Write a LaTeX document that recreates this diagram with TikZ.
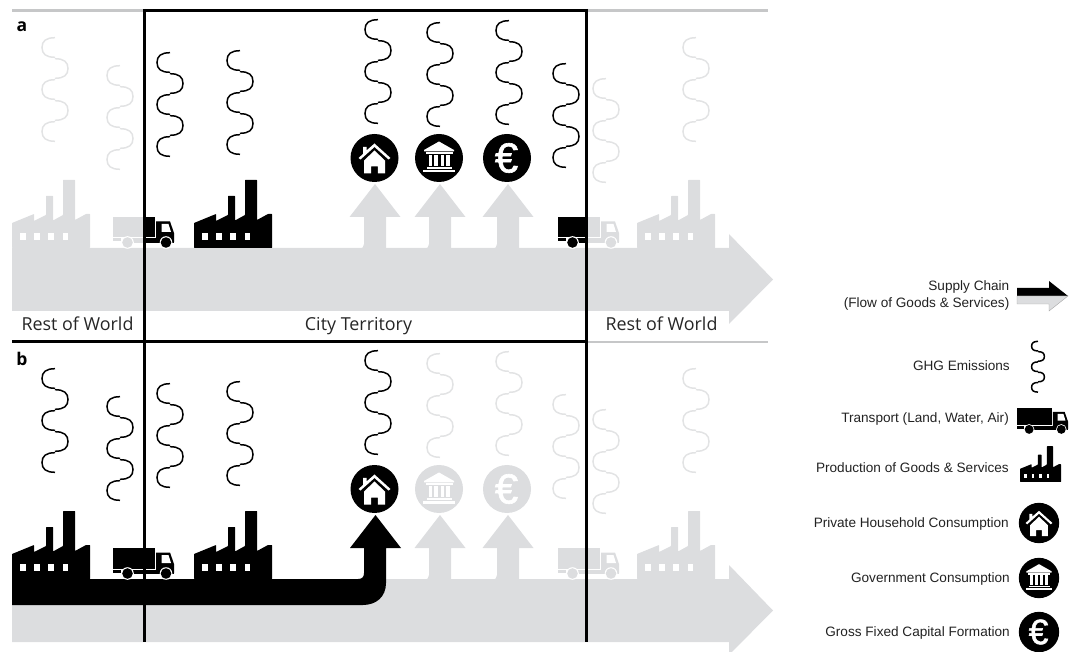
\documentclass[tikz,border=0pt]{standalone}
\usepackage{fontspec}
\setmainfont{Open Sans}
\newfontfamily\legendfont{Liberation Sans}
\newfontfamily\eurofont[FakeBold=1.5]{Liberation Sans}
\definecolor{ghost}{HTML}{DCDDDF}
\definecolor{ghostwave}{HTML}{E2E3E4}
\definecolor{ghostrule}{HTML}{C6C7C8}
\definecolor{legendink}{HTML}{222222}
\tikzset{
    panellabel/.style={anchor=base,font=\fontsize{17.5}{20}\selectfont\bfseries},
    regionlabel/.style={anchor=base,text=black!85,font=\fontsize{17.9}{20}\selectfont},
    legendlabel/.style={anchor=base east,inner sep=0pt,text=legendink,font=\legendfont\fontsize{13.6}{17}\selectfont},
    panelrule/.style={line width=3pt},
    pics/wave/.style={code={
        \foreach \n/\s in {0/-1,1/1,2/-1,3/1,4/-1}
            \draw[#1,line width=1.5pt] (0,\n*21+0.7) .. controls (\s*9,\n*21+0.7) and (\s*13,\n*21+4) .. (\s*13,\n*21+10.5)
                .. controls (\s*13,\n*21+17) and (\s*9,\n*21+20.3) .. (0,\n*21+20.3);
    }},
    pics/factory/.style={code={
        \fill[#1,rounded corners=0.5pt] (0,0) -- (0,-25) -- (22,-34) -- (22,-27) -- (34,-33) -- (34,-52) -- (41,-52)
            -- (41,-27.5) -- (51,-33) -- (51,-68) -- (63,-68) -- (63,-28) -- (74,-34) -- (78,-34) -- (78,0) -- cycle;
        \foreach \x in {8,22,36,50.5}
            \fill[white] (\x,-7.7) rectangle (\x+5.5,-14.7);
    }},
    pics/truck/.style={code={
        \fill[#1] (0,-10.5) rectangle (42,-31);
        \fill[#1] (0,-9.5) rectangle (8,-6.5);
        \fill[#1] (18,-9.5) rectangle (61,-5);
        \fill[#1] (43,-9) -- (43,-26.5) -- (57,-26.5) -- (61,-15) -- (61,-6) -- cycle;
        \fill[white] (48.5,-24) -- (55.5,-24) -- (58,-16) -- (48.5,-16) -- cycle;
        \foreach \x in {14.5,53} {
            \fill[white] (\x,-5.5) circle (6.3);
            \fill[#1] (\x,-5.5) circle (5.3);
        }
    }},
    pics/houseicon/.style={code={
        \fill[#1] (0,0) circle (24);
        \fill[white] (-16,0) -- (-11.5,-4) -- (-11.5,-11) -- (-8,-11) -- (-8,-7.5) -- (0,-14.5) -- (16,0) -- (14,1.5)
            -- (0,-11) -- (-14,1.5) -- cycle;
        \fill[white] (-10.5,2.5) -- (0,-7.5) -- (10.5,2.5) -- (10.5,15.5) -- (3.3,15.5) -- (3.3,8.5) -- (-3.3,8.5) -- (-3.3,15.5) -- (-10.5,15.5) -- cycle;
    }},
    pics/bankicon/.style={code={
        \fill[#1] (0,0) circle (24);
        \fill[white] (0,-16.5) -- (15,-8) -- (15,-6.5) -- (-15,-6.5) -- (-15,-8) -- cycle;
        \fill[white] (-13.5,-5.5) rectangle (13.5,-4);
        \foreach \x in {-10.5,-5,1.5,7}
            \fill[white] (\x,-3) rectangle +(3.5,11);
        \fill[white] (-12.5,9) rectangle (12.5,11);
        \fill[white] (-16,12) rectangle (16,14.5);
    }},
    pics/euroicon/.style={code={
        \fill[#1] (0,0) circle (24);
        \node[transform shape,text=white,inner sep=0pt,font=\eurofont\fontsize{42}{42}\selectfont] (eurosign) at (-0.5,0) {€};
    }},
    pics/flowbar/.style={code={
        \fill[ghost] (12,0) -- (729,0) -- (729,-14) -- (773,31.5) -- (729,76) -- (729,63) -- (12,63) -- cycle;
    }},
    pics/riser/.style={code={
        \fill[ghost] (-16,0.5) .. controls (-12.5,0.5) and (-11,-1) .. (-11,-4) -- (-11,-31) -- (-25.5,-31) -- (0,-64)
            -- (25.5,-31) -- (11,-31) -- (11,0.5) -- cycle;
    }}
}
\begin{document}
\begin{tikzpicture}[x=1pt,y=-1pt]
    \useasboundingbox (0,0) rectangle (1072,652);
    % supply chain bars
    \path pic at (0,248) {flowbar} pic at (0,579) {flowbar};
    \foreach \x in {375,440,508}
        \path pic at (\x,248) {riser};
    \foreach \x in {440,508}
        \path pic at (\x,579) {riser};
    \fill (12,579) -- (358,579) .. controls (362,579) and (364,577) .. (364,573) -- (364,548) -- (350,548) -- (375.5,515)
        -- (401,548) -- (386,548) -- (386,583) .. controls (386,597) and (376,605) .. (363,605) -- (12,605) -- cycle;
    % emissions
    \foreach \x/\y in {55/37,120/65,606/78,696/37}
        \path pic at (\x,\y) {wave=ghostwave};
    \foreach \x/\y in {170/52,240/50,378/19,440/22,509/20,566/63}
        \path pic at (\x,\y) {wave=black};
    \foreach \x/\y in {440/353,509/351,566/394,606/409,696/368}
        \path pic at (\x,\y) {wave=ghostwave};
    \foreach \x/\y in {55/368,120/396,170/383,240/381,378/350}
        \path pic at (\x,\y) {wave=black};
    % plants and trucks
    \path pic at (12,248) {factory=ghost} pic at (194,248) {factory=black}
        pic at (637,248) {factory=ghost};
    \path pic at (12,579) {factory=black} pic at (194,579) {factory=black}
        pic at (637,579) {factory=ghost};
    \path pic at (113,248) {truck=ghost} pic at (558,248) {truck=ghost};
    \begin{scope}
        \clip (144,200) rectangle (180,250);
        \path pic at (113,248) {truck=black};
    \end{scope}
    \begin{scope}
        \clip (550,200) rectangle (586,250);
        \path pic at (558,248) {truck=black};
    \end{scope}
    \path pic at (113,579) {truck=black} pic at (558,579) {truck=ghost};
    % consumption
    \path pic at (374.5,158) {houseicon=black} pic at (439,158) {bankicon=black}
        pic at (507,158) {euroicon=black};
    \path pic at (374.5,489) {houseicon=black} pic at (439,489) {bankicon=ghost}
        pic at (507,489) {euroicon=ghost};
    % frames
    \draw[ghostrule,line width=2.6pt] (12,10.5) -- (144,10.5) (586,10.5) -- (768,10.5) (586,342) -- (768,342);
    \draw[panelrule] (144,9) -- (144,641.5) (586,9) -- (586,641.5);
    \draw[panelrule] (144,10.5) -- (586,10.5) (12,342) -- (586,342);
    \node[panellabel] (labela) at (22,32) {a};
    \node[panellabel] (labelb) at (22,366) {b};
    \node[regionlabel] (restleft) at (77.5,331) {Rest of World};
    \node[regionlabel] (city) at (358.5,331) {City Territory};
    \node[regionlabel] (restright) at (661.5,331) {Rest of World};
    % legend
    \node[legendlabel,anchor=east,align=right] (lgchain) at (1009.5,295) {Supply Chain\\(Flow of Goods \& Services)};
    \node[legendlabel] (lgghg) at (1010,371) {GHG Emissions};
    \node[legendlabel] (lgtruck) at (1009,423) {Transport (Land, Water, Air)};
    \node[legendlabel] (lgprod) at (1009,472) {Production of Goods \& Services};
    \node[legendlabel] (lghouse) at (1009,527) {Private Household Consumption};
    \node[legendlabel] (lggov) at (1010,582) {Government Consumption};
    \node[legendlabel] (lgeuro) at (1010,636) {Gross Fixed Capital Formation};
    \fill (1017,288) -- (1049,288) -- (1049,281) -- (1068,296) -- (1017,296) -- cycle;
    \draw[fill=ghost,draw=black!35,line width=0.4pt] (1017,296) -- (1068,296) -- (1049,311) -- (1049,304) -- (1017,304) -- cycle;
    \path pic[scale=0.49] at (1038,341) {wave=black};
    \path pic[scale=0.836] at (1017,434) {truck=black};
    \path pic[scale=0.526] at (1020,482) {factory=black};
    \path pic[scale=0.84] at (1039,523) {houseicon=black} pic[scale=0.84] at (1039,578) {bankicon=black}
        pic[scale=0.84] at (1039,632) {euroicon=black};
\end{tikzpicture}
\end{document}
